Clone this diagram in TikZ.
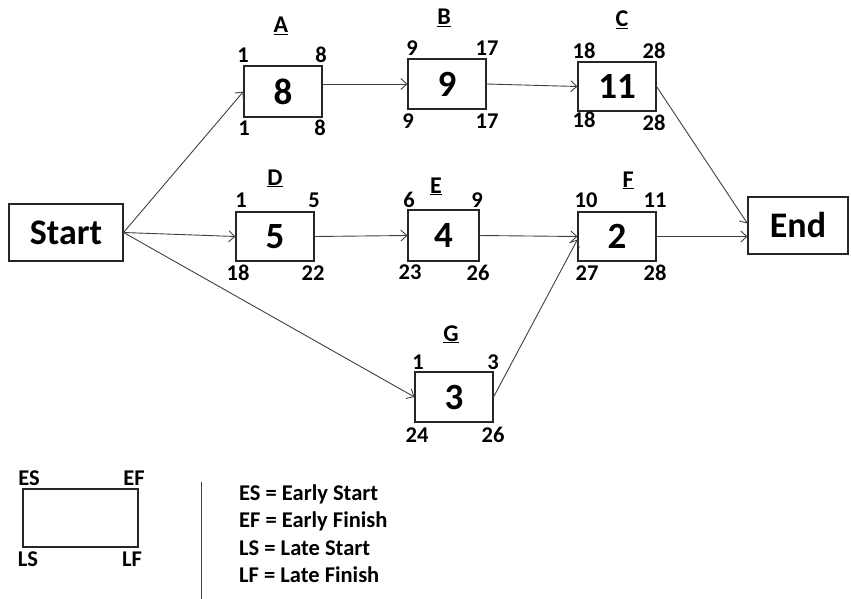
\documentclass[tikz,border=0pt]{standalone}
\usepackage{fontspec}
\setmainfont{Carlito}
\usetikzlibrary{arrows.meta,calc}
\begin{document}
\begin{tikzpicture}[x=1pt,y=-1pt,
  box/.style={draw=black!85, line width=1.1pt, inner sep=0pt, minimum width=78pt, minimum height=50pt,
    font=\fontsize{37}{40}\selectfont\bfseries},
  endpoint/.style={box, font=\fontsize{36}{40}\selectfont\bfseries},
  num/.style={inner sep=0pt, font=\fontsize{22.5}{25}\selectfont\bfseries},
  title/.style={inner sep=0pt, anchor=base, font=\fontsize{24}{27}\selectfont\bfseries},
  legend/.style={inner sep=0pt, anchor=base west, font=\fontsize{22.5}{25}\selectfont\bfseries},
  link/.style={draw=black!75, line width=0.9pt, -{Straight Barb[length=6pt,width=11pt]}}]
\useasboundingbox (0,0) rectangle (851,599);

% activity boxes
\node[endpoint, minimum width=114pt, minimum height=57pt] (start) at (66,232.5) {Start};
\node[endpoint, minimum width=100pt, minimum height=57pt] (end) at (798,225.5) {End};
\node[box, minimum height=51pt] (A) at (283,91.5) {8};
\node[box] (B) at (447,84) {9};
\node[box, minimum height=49pt] (C) at (617,86.5) {11};
\node[box, minimum height=49pt] (D) at (275,236.5) {5};
\node[box, minimum width=71pt, minimum height=51pt] (E) at (443.5,235.5) {4};
\node[box, minimum height=49pt] (F) at (617,236.5) {2};
\node[box] (G) at (454,397) {3};

% activity names
\node[title] (tA) at (281,33) {\underline{A}};
\node[title] (tB) at (444,25) {\underline{B}};
\node[title] (tC) at (622,27) {\underline{C}};
\node[title] (tD) at (275,185) {\underline{D}};
\node[title] (tE) at (436,193) {\underline{E}};
\node[title] (tF) at (628,187) {\underline{F}};
\node[title] (tG) at (451,341) {\underline{G}};

% ES / EF above, LS / LF below each box
\node[num] (A-es) at (243,55) {1};   \node[num] (A-ef) at (321,55) {8};
\node[num] (A-ls) at (244,128) {1};  \node[num] (A-lf) at (320,128) {8};
\node[num] (B-es) at (412,48) {9};   \node[num] (B-ef) at (487,48) {17};
\node[num] (B-ls) at (408,121) {9};  \node[num] (B-lf) at (487,121) {17};
\node[num] (C-es) at (584,51) {18};  \node[num] (C-ef) at (654,51) {28};
\node[num] (C-ls) at (584,120) {18}; \node[num] (C-lf) at (654,123) {28};
\node[num] (D-es) at (241,200) {1};  \node[num] (D-ef) at (314,200) {5};
\node[num] (D-ls) at (238,273) {18}; \node[num] (D-lf) at (313,273) {22};
\node[num] (E-es) at (409,200) {6};  \node[num] (E-ef) at (477,200) {9};
\node[num] (E-ls) at (410,272) {23}; \node[num] (E-lf) at (478,273) {26};
\node[num] (F-es) at (586,200) {10}; \node[num] (F-ef) at (655,200) {11};
\node[num] (F-ls) at (587,273) {27}; \node[num] (F-lf) at (655,273) {28};
\node[num] (G-es) at (418,362) {1};  \node[num] (G-ef) at (493,362) {3};
\node[num] (G-ls) at (417,435) {24}; \node[num] (G-lf) at (493,435) {26};

% precedence links
\draw[link] (start.east) -- (A.west);
\draw[link] (start.east) -- (D.west);
\draw[link] (start.east) -- (G.west);
\draw[link] (A.east |- B.west) -- (B.west);
\draw[link] (B.east) -- (C.west);
\draw[link] (D.east) -- (E.west);
\draw[link] (E.east) -- (F.west);
\draw[link] (G.east) -- ($(F.west)+(0,3)$);
\draw[link] (C.east) -- ($(end.west)+(0,-2)$);
\draw[link] (F.east) -- (F.east -| end.west);

% legend
\node[draw=black!85, line width=1.1pt, minimum width=115pt, minimum height=58pt, inner sep=0pt] (key) at (80.5,518) {};
\node[num] (k-es) at (29,478) {ES};
\node[num] (k-ef) at (134,478) {EF};
\node[num] (k-ls) at (28,559) {LS};
\node[num] (k-lf) at (132,559) {LF};
\draw[black!75, line width=1pt] (201,482) -- (201,599);
\node[legend] (l1) at (239,500) {ES = Early Start};
\node[legend] (l2) at (239,527.5) {EF = Early Finish};
\node[legend] (l3) at (239,555) {LS = Late Start};
\node[legend] (l4) at (239,582) {LF = Late Finish};
\end{tikzpicture}
\end{document}
